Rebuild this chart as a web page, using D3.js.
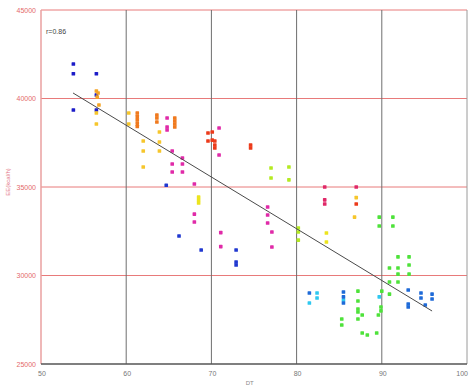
<!DOCTYPE html>
<html>
<head>
<meta charset="utf-8">
<script src="https://cdn.jsdelivr.net/npm/d3@7"></script>
<style>
  body { margin: 0; background: #fff; }
  text { font-family: "Liberation Sans", "DejaVu Sans", sans-serif; }
</style>
</head>
<body>
<div id="chart"></div>
<script>
// tick values
var xTicks = [50, 60, 70, 80, 90, 100];
var yTicks = [25000, 30000, 35000, 40000, 45000];

// point groups, [DT, value]
var darkBlue = [[53.8, 41950], [53.8, 41400], [53.8, 39350], [56.5, 41400], [56.5, 40200], [56.5, 39350]];
var navy = [[64.7, 35100], [66.2, 32230], [68.8, 31440], [72.9, 31440], [72.9, 30760], [72.9, 30590]];
var gold = [[56.5, 40420], [56.7, 40310], [56.6, 40080], [56.8, 39630]];
var orange = [[61.3, 39180], [61.3, 38990], [61.3, 38800], [61.3, 38610], [61.3, 38420],
  [63.6, 39070], [63.6, 38900], [63.6, 38670],
  [65.7, 38900], [65.7, 38730], [65.7, 38560], [65.7, 38390]];
var yellow = [[56.5, 39180], [56.5, 38560], [60.3, 39180], [60.3, 38560],
  [62.0, 37600], [62.0, 37030], [62.0, 36130], [63.9, 38110], [63.9, 37540], [63.9, 37030],
  [87.0, 34400], [86.8, 33300]];
var lemon = [[68.5, 34430], [68.5, 34260], [68.5, 34100], [83.5, 32400], [83.5, 31890]];
var magenta = [[64.8, 38900], [64.8, 38390], [64.8, 38220], [65.4, 37030], [65.4, 36300], [65.4, 35850],
  [66.6, 36640], [66.6, 36300], [66.6, 35850], [68.0, 35170], [68.0, 33470], [68.0, 33020],
  [70.9, 38330], [70.9, 36810], [71.1, 32420], [71.1, 31630],
  [76.6, 33870], [76.6, 33420], [76.6, 32970], [77.1, 32460], [77.1, 31610]];
var crimson = [[83.3, 35000], [83.3, 34270], [83.3, 34040], [87.0, 35000]];
var red = [[69.6, 38050], [69.6, 37600], [70.1, 38110], [70.1, 37650], [70.4, 37600], [70.4, 37370],
  [70.4, 37200], [74.6, 37370], [74.6, 37200], [87.0, 34040]];
var lime = [[77.0, 36070], [77.0, 35510], [79.1, 36130], [79.1, 35400], [80.2, 32680], [80.2, 32460], [80.2, 32000]];
var green = [[89.7, 33300], [89.7, 32800], [91.3, 33300], [91.3, 32800],
  [90.9, 30420], [90.9, 29630], [90.9, 28950], [91.9, 31050], [91.9, 30420], [91.9, 30080], [91.9, 29630],
  [93.2, 31050], [93.2, 30590], [93.2, 30080],
  [87.2, 29120], [87.2, 28560], [87.2, 28110], [87.2, 27940], [87.7, 27770], [87.2, 27540],
  [85.3, 27540], [85.3, 27200], [87.7, 26750], [88.3, 26640], [89.4, 26750],
  [90.0, 29120], [89.9, 28220], [89.9, 28000], [89.6, 27770]];
var cyan = [[81.5, 28450], [82.4, 29010], [82.4, 28730], [89.7, 28790], [85.5, 28620]];
var blue = [[81.5, 29010], [85.5, 29070], [85.5, 28790], [85.5, 28450],
  [93.1, 29180], [93.1, 28390], [93.1, 28220], [94.6, 29010], [94.6, 28730], [95.1, 28330],
  [95.9, 28950], [95.9, 28670]];

// fitted line end points
var fitX = [53.76, 95.9];
var fitY = [40311, 27994];

var groups = [
  { pts: darkBlue, color: "#1c1cc8" },
  { pts: navy, color: "#2038d0" },
  { pts: gold, color: "#f4a424" },
  { pts: orange, color: "#f07a1e" },
  { pts: yellow, color: "#f6c62c" },
  { pts: lemon, color: "#ece41e" },
  { pts: magenta, color: "#e02aa8" },
  { pts: crimson, color: "#e02868" },
  { pts: red, color: "#ec3a1a" },
  { pts: lime, color: "#b4ea22" },
  { pts: green, color: "#4ee23a" },
  { pts: cyan, color: "#2ec8f0" },
  { pts: blue, color: "#1e6ad8" }
];

var width = 469,
  height = 387;

var svg = d3.select("#chart").append("svg").attr("width", width).attr("height", height);

var x = d3.scaleLinear().domain([50, 100]).range([41, 467]);
var y = d3.scaleLinear().domain([25000, 45000]).range([364, 10]);

// horizontal grid (red)
svg.selectAll(".hgrid")
  .data(yTicks.filter(function (d) { return d > 25000; }))
  .enter()
  .append("line")
  .attr("x1", x(50))
  .attr("x2", x(100))
  .attr("y1", function (d) { return y(d); })
  .attr("y2", function (d) { return y(d); })
  .attr("stroke", "#e87a7a")
  .attr("stroke-width", 1);

// vertical grid (gray), incl. right border
svg.selectAll(".vgrid")
  .data(xTicks.filter(function (d) { return d > 50; }))
  .enter()
  .append("line")
  .attr("x1", function (d) { return x(d); })
  .attr("x2", function (d) { return x(d); })
  .attr("y1", y(45000))
  .attr("y2", y(25000))
  .attr("stroke", function (d) { return d === 100 ? "#9a9a9a" : "#6e6e6e"; })
  .attr("stroke-width", 1);

// left axis line
svg.append("line")
  .attr("x1", x(50)).attr("x2", x(50))
  .attr("y1", y(45000)).attr("y2", y(25000))
  .attr("stroke", "#eaa0a0").attr("stroke-width", 1.5);

// bottom axis line
svg.append("line")
  .attr("x1", x(50)).attr("x2", x(100))
  .attr("y1", y(25000)).attr("y2", y(25000))
  .attr("stroke", "#555").attr("stroke-width", 1.5);

// y tick labels
svg.selectAll(".ylab")
  .data(yTicks)
  .enter()
  .append("text")
  .attr("x", 36)
  .attr("y", function (d) { return y(d) + 2.5; })
  .attr("text-anchor", "end")
  .attr("font-size", 7)
  .attr("fill", "#e46a6a")
  .text(function (d) { return d; });

// x tick labels (last one kept inside the frame)
svg.selectAll(".xlab")
  .data(xTicks)
  .enter()
  .append("text")
  .attr("x", function (d) { return d === 100 ? 468 : x(d) + 1; })
  .attr("y", y(25000) + 12)
  .attr("text-anchor", function (d) { return d === 100 ? "end" : "middle"; })
  .attr("font-size", 7)
  .attr("fill", "#777")
  .text(function (d) { return d; });

// axis titles
svg.append("text")
  .attr("x", x(74.5))
  .attr("y", 385)
  .attr("text-anchor", "middle")
  .attr("font-size", 6)
  .attr("fill", "#888")
  .text("DT");

svg.append("text")
  .attr("transform", "translate(10," + 182 + ") rotate(-90)")
  .attr("text-anchor", "middle")
  .attr("font-size", 6)
  .attr("fill", "#e47a8a")
  .text("EE(kcal/h)");

svg.append("text")
  .attr("x", 46)
  .attr("y", 34)
  .attr("font-size", 7)
  .attr("fill", "#444")
  .text("r=0.86");

// points
groups.forEach(function (g) {
  svg.selectAll(null)
    .data(g.pts)
    .enter()
    .append("rect")
    .attr("x", function (d) { return x(d[0]) - 1.8; })
    .attr("y", function (d) { return y(d[1]) - 1.8; })
    .attr("width", 3.6)
    .attr("height", 3.6)
    .attr("rx", 0.6)
    .attr("fill", g.color);
});

// fitted line
svg.append("line")
  .attr("x1", x(fitX[0])).attr("y1", y(fitY[0]))
  .attr("x2", x(fitX[1])).attr("y2", y(fitY[1]))
  .attr("stroke", "#4a4a4a")
  .attr("stroke-width", 1);
</script>
</body>
</html>
